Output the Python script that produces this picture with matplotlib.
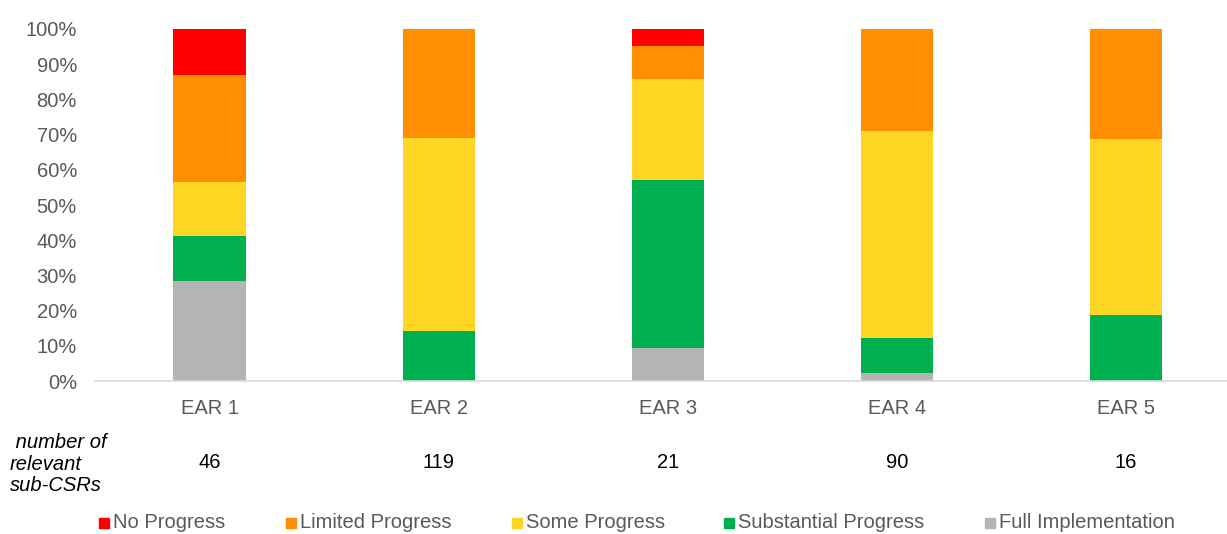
import numpy as np
import matplotlib.pyplot as plt
from matplotlib.patches import Rectangle

plt.rcParams['font.family'] = ['Liberation Sans', 'DejaVu Sans']

categories = ['EAR 1', 'EAR 2', 'EAR 3', 'EAR 4', 'EAR 5']
counts = [46, 119, 21, 90, 16]

# shares in % (bottom to top)
full_impl = [28.3, 0.0, 9.5, 2.2, 0.0]
substantial = [13.0, 14.3, 47.6, 10.0, 18.75]
some = [15.2, 54.6, 28.6, 58.9, 50.0]
limited = [30.4, 31.1, 9.5, 28.9, 31.25]
no_progress = [13.1, 0.0, 4.8, 0.0, 0.0]

series = [
    ('Full Implementation', full_impl, '#b4b4b4'),
    ('Substantial Progress', substantial, '#00b050'),
    ('Some Progress', some, '#ffd624'),
    ('Limited Progress', limited, '#ff8f00'),
    ('No Progress', no_progress, '#ff0000'),
]

fs = 14.5
fig = plt.figure(figsize=(12.27, 5.34), dpi=100)
ax = fig.add_axes([0.0774, 0.2865, 0.9226, 0.6592])

x = np.arange(len(categories))
bottom = np.zeros(len(categories))
for name, vals, col in series:
    vals = np.array(vals)
    ax.bar(x, vals, 0.315, bottom=bottom, color=col, label=name)
    bottom += vals

ax.set_ylim(0, 100)
ax.set_xlim(-0.5, 4.44)
ax.set_yticks(range(0, 101, 10))
ax.set_yticklabels([f'{v}%' for v in range(0, 101, 10)])
ax.set_xticks(x)
ax.set_xticklabels(categories)
ax.tick_params(axis='both', length=0, labelsize=fs, colors='#595959')
ax.tick_params(axis='y', pad=13)
ax.tick_params(axis='x', pad=13)
for s in ['top', 'right', 'left']:
    ax.spines[s].set_visible(False)
ax.spines['bottom'].set_color('#d9d9d9')
ax.spines['bottom'].set_linewidth(1.2)

# counts row
for xi, c in zip(x, counts):
    px = ax.transData.transform((xi, 0))[0] / fig.bbox.width
    fig.text(px, 1 - 463 / 534, str(c), ha='center', va='center', fontsize=fs, color='black')
fig.text(0.008, 1 - 464 / 534, ' number of\nrelevant\nsub-CSRs', ha='left', va='center',
         fontsize=fs, style='italic', color='black', linespacing=1.16)

# legend, laid out like the original Excel legend
order = ['No Progress', 'Limited Progress', 'Some Progress', 'Substantial Progress', 'Full Implementation']
cols = {n: c for n, _, c in series}
leg_x = [99, 286, 512, 724, 985]
W, H = 1227, 534
yc = 523
for n, lx in zip(order, leg_x):
    fig.patches.append(Rectangle((lx / W, (H - yc - 5) / H), 10 / W, 10 / H,
                                 transform=fig.transFigure, color=cols[n]))
    fig.text((lx + 14) / W, 1 - yc / H, n, ha='left', va='center', fontsize=fs, color='#595959')

fig.savefig('out.png', dpi=100)
